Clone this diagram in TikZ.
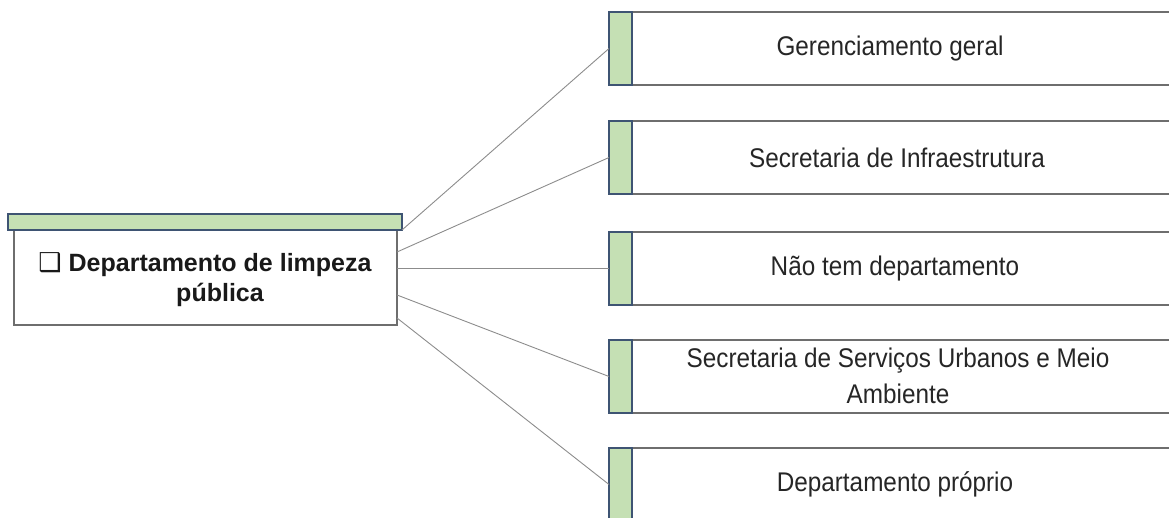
\documentclass[tikz,border=0pt]{standalone}
\usepackage{fontspec}
\setmainfont{Liberation Sans}
\newfontfamily\symfont{DejaVu Sans}
\newfontfamily\narrowfont[FakeStretch=0.9]{Liberation Sans}
\definecolor{gfill}{HTML}{C5E0B4}
\definecolor{sline}{HTML}{3E5473}
\definecolor{bline}{HTML}{6E6E6E}
\definecolor{cline}{HTML}{8C8C8C}
\begin{document}
\begin{tikzpicture}[x=1pt,y=-1pt,
  strip/.style={draw=sline,fill=gfill,line width=1.2pt,minimum width=23pt,minimum height=73pt,anchor=north west,inner sep=0pt,outer sep=0pt},
  rbox/.style={draw=bline,fill=white,line width=1.6pt,minimum width=600pt,minimum height=73pt,anchor=north west,inner sep=0pt,outer sep=0pt},
  rtext/.style={font=\narrowfont\fontsize{27}{36}\selectfont,align=center,inner sep=0pt,text=black!85},
  conn/.style={draw=cline,line width=0.9pt}]
\useasboundingbox (0,0) rectangle (1169,518);
\clip (0,0) rectangle (1169,518);
% main box
\node[draw=bline,fill=white,line width=1.6pt,minimum width=383pt,minimum height=95pt,anchor=north west,inner sep=0pt,outer sep=0pt] (main) at (14,230) {};
\node[draw=sline,fill=gfill,line width=1.2pt,minimum width=394pt,minimum height=16pt,anchor=north west,inner sep=0pt,outer sep=0pt] (gbar) at (8,214) {};
\node[font=\fontsize{25}{30}\selectfont\bfseries,align=center,inner sep=0pt,anchor=base,text=black!90] (mtext) at (205,302) {{\symfont\fontsize{26}{30}\selectfont ❑} Departamento de limpeza\\\hspace*{30pt}pública};
% right boxes
\foreach \i/\t in {1/12,2/121,3/232,4/340,5/448}{
  \node[rbox] (b\i) at (632,\t) {};
  \node[strip] (s\i) at (609,\t) {};
}
\node[rtext] (t1) at (890,48.5) {Gerenciamento geral};
\node[rtext] (t2) at (897,157.5) {Secretaria de Infraestrutura};
\node[rtext] (t3) at (895,268.5) {Não tem departamento};
\node[rtext] (t4) at (898,376) {Secretaria de Serviços Urbanos e Meio\\Ambiente};
\node[rtext] (t5) at (895,484.5) {Departamento próprio};
% connectors
\draw[conn] (gbar.south east) -- (s1.west);
\draw[conn] ([yshift=-22pt]main.north east) -- (s2.west);
\draw[conn] ([yshift=-38.5pt]main.north east) -- (s3.west);
\draw[conn] ([yshift=-65pt]main.north east) -- (s4.west);
\draw[conn] ([yshift=-88pt]main.north east) -- (s5.west);
\end{tikzpicture}
\end{document}
